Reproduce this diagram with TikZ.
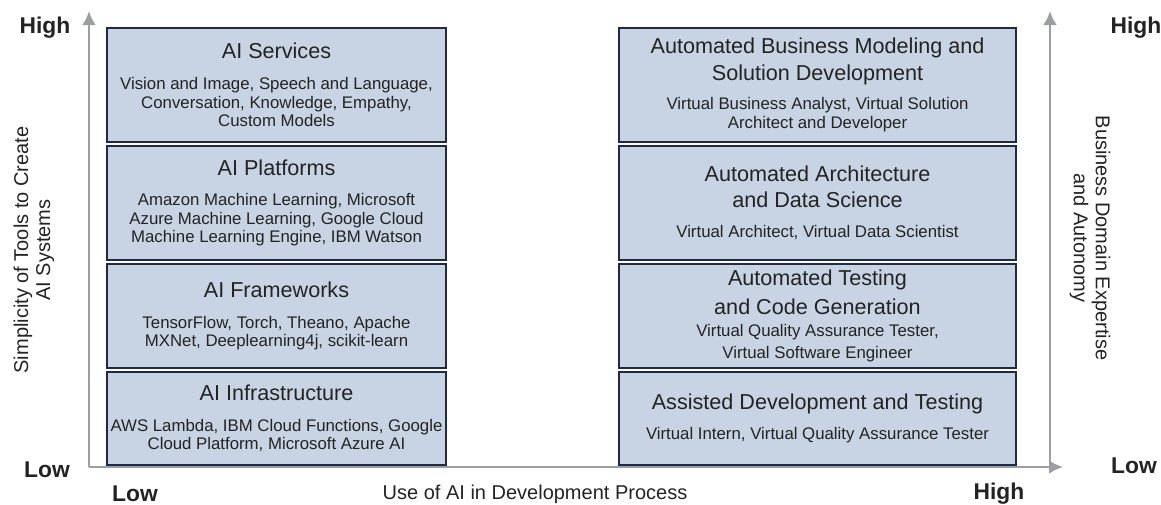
\documentclass[tikz,border=0pt]{standalone}
\usepackage{fontspec}
\setmainfont{Liberation Sans}
\usetikzlibrary{arrows.meta}
\definecolor{tierfill}{RGB}{200,212,227}
\definecolor{tierline}{RGB}{32,42,70}
\definecolor{axisgray}{RGB}{155,158,162}
\definecolor{ink}{RGB}{35,35,35}
\newcommand\tiertitle[1]{{\fontsize{10.8}{13}\selectfont #1}}

\begin{document}
\begin{tikzpicture}[x=0.5pt, y=-0.5pt,
    tier/.style={draw=tierline, fill=tierfill, line width=1pt, align=center, text=ink,
        font=\fontsize{8.4}{9.3}\selectfont, inner sep=0pt},
    lefttier/.style={tier, minimum width=169.5pt},
    righttier/.style={tier, minimum width=198.5pt},
    axis/.style={-{Latex[length=7pt, width=7pt]}, draw=axisgray, fill=axisgray, line width=1.4pt},
    level/.style={text=ink, font=\fontsize{11.4}{13}\selectfont\bfseries},
    axistitle/.style={text=ink, align=center, font=\fontsize{10}{11}\selectfont}]
    \useasboundingbox (0,0) rectangle (1161,504);

    % axes
    \coordinate (origin) at (89,467);
    \coordinate (ytop) at (89,11);
    \coordinate (xend) at (1063,467);
    \coordinate (rbase) at (1050,467);
    \coordinate (rtop) at (1050,11);
    \draw[axis] (origin) -- (ytop);
    \draw[axis] (origin) -- (xend);
    \draw[axis] (rbase) -- (rtop);

    % left stack
    \node[lefttier, minimum height=57pt] (services) at (276.5,85)
        {\tiertitle{AI Services}\\[6pt]Vision and Image, Speech and Language,\\Conversation, Knowledge, Empathy,\\Custom Models};
    \node[lefttier, minimum height=57pt] (platforms) at (276.5,203)
        {\tiertitle{AI Platforms}\\[6pt]Amazon Machine Learning, Microsoft\\Azure Machine Learning, Google Cloud\\Machine Learning Engine, IBM Watson};
    \node[lefttier, minimum height=52pt] (frameworks) at (276.5,316)
        {\tiertitle{AI Frameworks}\\[6pt]TensorFlow, Torch, Theano, Apache\\MXNet, Deeplearning4j, scikit-learn};
    \node[lefttier, minimum height=46.5pt] (infra) at (276.5,418.5)
        {\tiertitle{AI Infrastructure}\\[6pt]AWS Lambda, IBM Cloud Functions, Google\\Cloud Platform, Microsoft Azure AI};

    % right stack
    \node[righttier, minimum height=57pt] (bizmodel) at (817.5,85)
        {\tiertitle{Automated Business Modeling and}\\[2pt]\tiertitle{Solution Development}\\[5.5pt]Virtual Business Analyst, Virtual Solution\\Architect and Developer};
    \node[righttier, minimum height=57pt] (archds) at (817.5,203)
        {\tiertitle{Automated Architecture}\\[3.5pt]\tiertitle{and Data Science}\\[6pt]Virtual Architect, Virtual Data Scientist};
    \node[righttier, minimum height=52pt] (testgen) at (817.5,316)
        {\tiertitle{Automated Testing}\\[3.5pt]\tiertitle{and Code Generation}\\[1.5pt]Virtual Quality Assurance Tester,\\[2pt]Virtual Software Engineer};
    \node[righttier, minimum height=46.5pt] (assisted) at (817.5,418.5)
        {\tiertitle{Assisted Development and Testing}\\[6pt]Virtual Intern, Virtual Quality Assurance Tester};

    % axis labels
    \node[level] (lhigh) at (45,28) {High};
    \node[level] (llow) at (47,470) {Low};
    \node[level] (bllow) at (135,494) {Low};
    \node[level] (brhigh) at (999,494) {High};
    \node[level] (rhigh) at (1136,28) {High};
    \node[level] (rlow) at (1134,466) {Low};
    \node[axistitle] (xtitle) at (535,494) {Use of AI in Development Process};
    \node[axistitle, rotate=90] (ytitle) at (34,250) {Simplicity of Tools to Create\\AI Systems};
    \node[axistitle, rotate=-90] (rtitle) at (1090,238) {Business Domain Expertise\\and Autonomy};
\end{tikzpicture}
\end{document}
